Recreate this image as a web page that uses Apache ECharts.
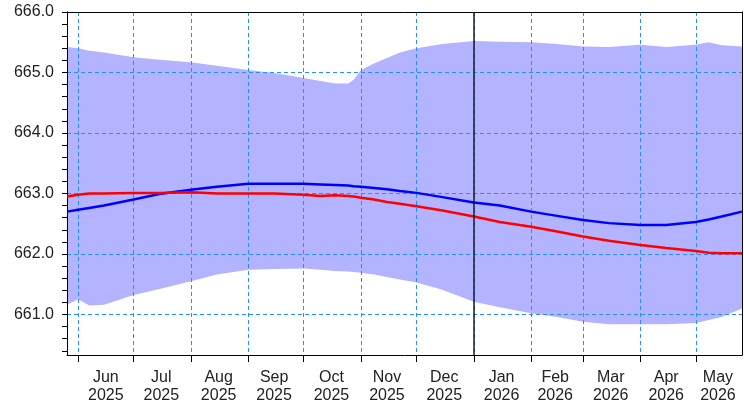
<!DOCTYPE html>
<html>
<head>
<meta charset="utf-8">
<script src="https://cdn.jsdelivr.net/npm/echarts@6.0.0/dist/echarts.min.js"></script>
<style>
html,body{margin:0;padding:0;background:#fff;}
#chart{width:744px;height:407px;}
</style>
</head>
<body>
<div id="chart"></div>
<script>
// ---- data ----
const dates = ['2025-05-26','2025-06-01','2025-06-07','2025-06-15','2025-07-01','2025-07-15','2025-08-01','2025-08-15',
  '2025-09-01','2025-09-15','2025-10-01','2025-10-10','2025-10-18','2025-10-25','2025-10-28','2025-11-01',
  '2025-11-08','2025-11-15','2025-11-22','2025-12-01','2025-12-15','2026-01-01','2026-01-15','2026-02-01',
  '2026-02-15','2026-03-01','2026-03-15','2026-04-01','2026-04-15','2026-05-01','2026-05-08','2026-05-15','2026-05-26'];
const upperBand = [665.42,665.40,665.36,665.33,665.25,665.21,665.17,665.11,
  665.04,664.99,664.91,664.86,664.82,664.82,664.88,665.04,
  665.15,665.24,665.33,665.40,665.47,665.52,665.51,665.50,
  665.47,665.43,665.42,665.46,665.42,665.46,665.50,665.45,665.43];
const lowerBand = [661.16,661.25,661.15,661.16,661.32,661.42,661.55,661.66,
  661.74,661.75,661.76,661.74,661.72,661.71,661.70,661.69,
  661.66,661.62,661.58,661.53,661.41,661.21,661.12,661.02,
  660.96,660.88,660.84,660.84,660.84,660.86,660.91,660.96,661.10];
const redLine = [662.95,662.98,663.00,663.00,663.01,663.01,663.02,663.00,
  663.00,663.00,662.98,662.96,662.97,662.96,662.95,662.93,
  662.90,662.86,662.83,662.79,662.72,662.62,662.53,662.45,
  662.37,662.29,662.22,662.15,662.10,662.05,662.02,662.01,662.01];
const blueLine = [662.70,662.73,662.76,662.80,662.90,662.99,663.06,663.11,
  663.16,663.16,663.16,663.15,663.14,663.13,663.12,663.11,
  663.09,663.07,663.04,663.01,662.94,662.85,662.80,662.70,
  662.63,662.56,662.51,662.48,662.48,662.53,662.57,662.62,662.70];
const monthTicks = ['2025-06-01','2025-07-01','2025-08-01','2025-09-01','2025-10-01','2025-11-01','2025-12-01',
  '2026-01-01','2026-02-01','2026-03-01','2026-04-01','2026-05-01'];
const monthLabelPos = ['2025-06-16','2025-07-16','2025-08-16','2025-09-15','2025-10-16','2025-11-15','2025-12-16',
  '2026-01-16','2026-02-14','2026-03-16','2026-04-15','2026-05-13'];
const monthNames = ['Jan','Feb','Mar','Apr','May','Jun','Jul','Aug','Sep','Oct','Nov','Dec'];
const yLabels = [661,662,663,664,665,666];
const yMinorTicks = [660.4,660.6,660.8,661,661.2,661.4,661.6,661.8,662,662.2,662.4,662.6,662.8,663,663.2,663.4,663.6,663.8,
  664,664.2,664.4,664.6,664.8,665,665.2,665.4,665.6,665.8,666];
const xStart = '2025-05-26', xEnd = '2026-05-26';
const yMin = 660.33, yMax = 666.0;
const nowLine = '2026-01-01';

function ts(s){ return new Date(s + 'T00:00:00').getTime(); }
const pts = arr => arr.map((v,i)=>[ts(dates[i]), v]);

const font = '"Liberation Sans", Arial, sans-serif';
const gridLine = {show:true, lineStyle:{color:'#1e90ff', type:[4,3], width:1}};

const chart = echarts.init(document.getElementById('chart'));
chart.setOption({
  animation:false,
  backgroundColor:'#fff',
  grid:{left:67, right:2, top:12, bottom:52},
  xAxis:[{
    type:'value', min:ts(xStart), max:ts(xEnd), position:'bottom', z:2,
    axisLine:{show:true, lineStyle:{color:'#000', width:1}},
    axisTick:{show:true, length:7, lineStyle:{color:'#000'}, customValues:monthTicks.map(ts)},
    axisLabel:{customValues:monthLabelPos.map(ts), color:'#222', fontFamily:font, fontSize:16, lineHeight:18, margin:14,
      formatter:function(v){ const d=new Date(v); return monthNames[d.getMonth()]+'\n'+d.getFullYear(); }},
    splitLine:gridLine
  },{
    type:'value', min:ts(xStart), max:ts(xEnd), position:'top', z:2,
    axisLine:{show:true, lineStyle:{color:'#000', width:1}},
    axisTick:{show:false}, axisLabel:{show:false}, splitLine:{show:false}
  }],
  yAxis:[{
    type:'value', min:yMin, max:yMax, position:'left', z:2,
    axisLine:{show:true, lineStyle:{color:'#000', width:1}},
    axisTick:{show:true, length:5, lineStyle:{color:'#000'}, customValues:yMinorTicks},
    axisLabel:{customValues:yLabels, color:'#222', fontFamily:font, fontSize:16, margin:13,
      formatter:v=>v.toFixed(1)},
    splitLine:{show:false}
  },{
    type:'value', min:yMin, max:yMax, position:'right', z:2,
    axisLine:{show:true, lineStyle:{color:'#000', width:1}},
    axisTick:{show:false, customValues:yLabels}, axisLabel:{show:false},
    splitLine:gridLine
  }],
  series:[{
    name:'upper', type:'line', data:pts(upperBand), symbol:'none', z:1,
    lineStyle:{opacity:0}, areaStyle:{color:'#b3b3ff', opacity:1, origin:'start'}, silent:true
  },{
    name:'lower', type:'line', data:pts(lowerBand), symbol:'none', z:1,
    lineStyle:{opacity:0}, areaStyle:{color:'#ffffff', opacity:1, origin:'start'}, silent:true
  },{
    name:'blue', type:'line', data:pts(blueLine), symbol:'none', z:3,
    lineStyle:{color:'#0000ff', width:2.5},
    markLine:{symbol:'none', silent:true, label:{show:false},
      lineStyle:{color:'#1a1a2a', type:'solid', width:1.5},
      data:[{xAxis:ts(nowLine)}]}
  },{
    name:'red', type:'line', data:pts(redLine), symbol:'none', z:3,
    lineStyle:{color:'#ff0000', width:2.5}
  }]
});
</script>
</body>
</html>
